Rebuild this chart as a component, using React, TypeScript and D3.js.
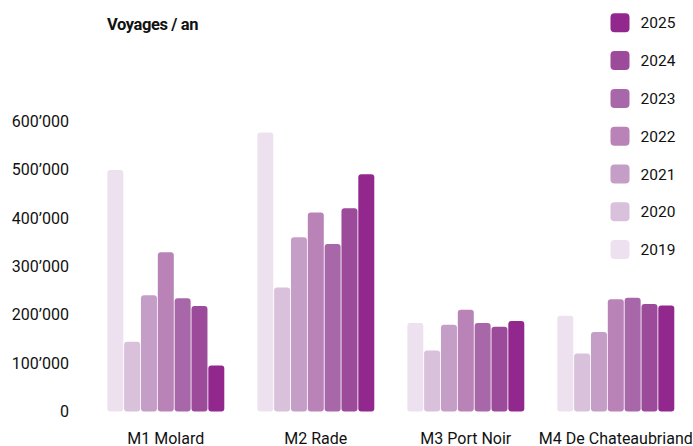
import { useRef, useEffect } from 'react';
import * as d3 from 'd3';

const CATEGORIES = ['M1 Molard', 'M2 Rade', 'M3 Port Noir', 'M4 De Chateaubriand'];
const YEARS = ['2019', '2020', '2021', '2022', '2023', '2024', '2025'];
const YEAR_COLORS = ['#ede1ef', '#d9c0db', '#c59ec8', '#b983b8', '#a867a9', '#9c4a9a', '#92288d'];

// voyages per year, one array per station, in YEARS order
const M1_VALUES = [499000, 144000, 240000, 329000, 234000, 218000, 95000];
const M2_VALUES = [576000, 256000, 360000, 411000, 346000, 420000, 490000];
const M3_VALUES = [183000, 126000, 179000, 210000, 183000, 175000, 187000];
const M4_VALUES = [198000, 120000, 164000, 232000, 235000, 222000, 219000];
const SERIES = [M1_VALUES, M2_VALUES, M3_VALUES, M4_VALUES];

const Y_TICKS = [0, 100000, 200000, 300000, 400000, 500000, 600000];

const W = 693;
const H = 446;
const FONT = 'Roboto, "DejaVu Sans", sans-serif';

export default function App() {
  const svgRef = useRef<SVGSVGElement>(null);

  useEffect(() => {
    const svg = d3.select(svgRef.current);
    svg.selectAll('*').remove();

    const x0 = d3.scaleBand<string>().domain(CATEGORIES).range([90.8, 690.8])
      .paddingInner(0.22).paddingOuter(0.11);
    const x1 = d3.scaleBand<string>().domain(YEARS).range([0, x0.bandwidth()])
      .paddingInner(0.05).paddingOuter(0);
    const y = d3.scaleLinear().domain([0, 600000]).range([411.5, 121]);
    const color = d3.scaleOrdinal<string, string>().domain(YEARS).range(YEAR_COLORS);

    // title
    svg.append('text')
      .attr('x', 107).attr('y', 30)
      .attr('font-family', FONT).attr('font-weight', 700).attr('font-size', 16.5)
      .attr('letter-spacing', -0.4)
      .attr('fill', '#111')
      .text('Voyages / an');

    // y tick labels
    const fmt = (v: number) => d3.format(',')(v).replace(/,/g, '\u2019');
    svg.append('g').selectAll('text')
      .data(Y_TICKS)
      .join('text')
      .attr('x', 69).attr('y', (d) => y(d))
      .attr('dy', '0.36em')
      .attr('text-anchor', 'end')
      .attr('font-family', FONT).attr('font-size', 16)
      .attr('fill', '#111')
      .text(fmt);

    // bars
    const groups = svg.append('g').selectAll('g')
      .data(CATEGORIES)
      .join('g')
      .attr('transform', (d) => `translate(${x0(d)},0)`);

    groups.selectAll('rect')
      .data((_, i) => SERIES[i].map((v, j) => ({ year: YEARS[j], v })))
      .join('rect')
      .attr('x', (d) => x1(d.year)!)
      .attr('y', (d) => y(d.v))
      .attr('width', x1.bandwidth())
      .attr('height', (d) => y(0) - y(d.v))
      .attr('rx', 3)
      .attr('fill', (d) => color(d.year));

    // category labels
    svg.append('g').selectAll('text')
      .data(CATEGORIES)
      .join('text')
      .attr('x', (d) => x0(d)! + x0.bandwidth() / 2)
      .attr('y', 443.5)
      .attr('text-anchor', 'middle')
      .attr('font-family', FONT).attr('font-size', 16)
      .attr('fill', '#111')
      .text((d) => d);

    // legend
    const legend = svg.append('g').selectAll('g')
      .data(YEARS.slice().reverse())
      .join('g')
      .attr('transform', (_, i) => `translate(610.5,${13.3 + i * 37.8})`);
    legend.append('rect')
      .attr('width', 19).attr('height', 19).attr('rx', 4)
      .attr('fill', (d) => color(d));
    legend.append('text')
      .attr('x', 30).attr('y', 9.5).attr('dy', '0.36em')
      .attr('font-family', FONT).attr('font-size', 15.5)
      .attr('fill', '#111')
      .text((d) => d);
  }, []);

  return (
    <svg ref={svgRef} width={W} height={H}
      style={{ position: 'absolute', left: 0, top: 0, background: '#fff' }} />
  );
}
